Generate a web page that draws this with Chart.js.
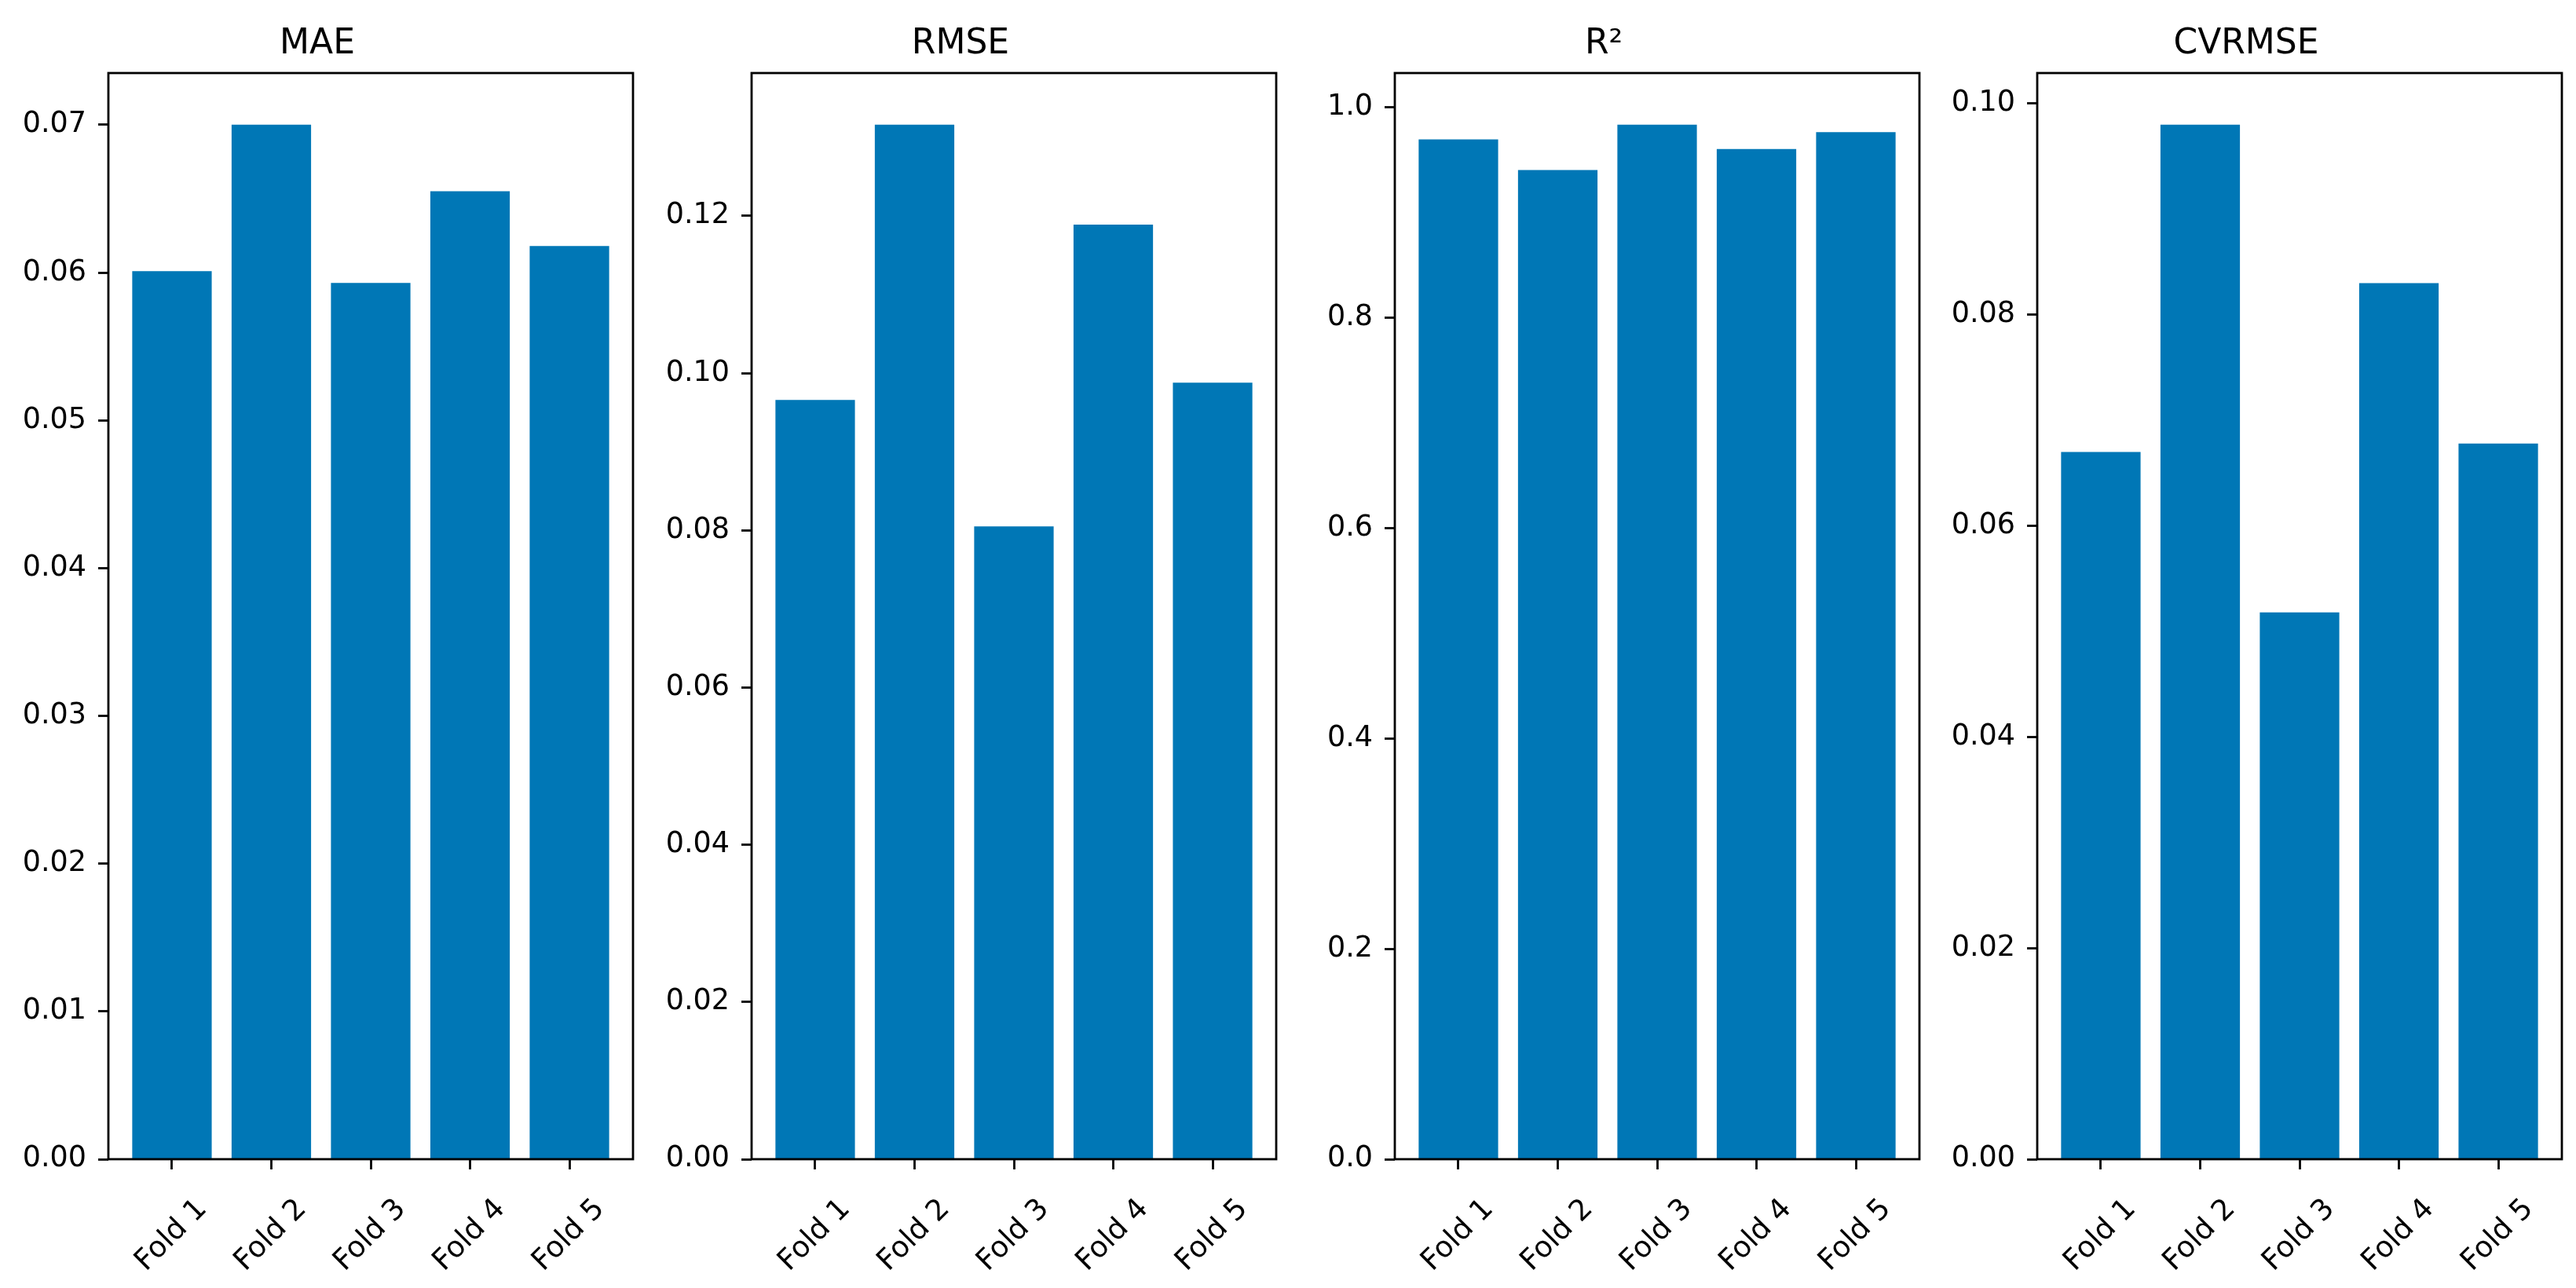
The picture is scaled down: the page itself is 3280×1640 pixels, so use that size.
<!DOCTYPE html>
<html>
<head>
<meta charset="utf-8">
<script src="https://cdn.jsdelivr.net/npm/chart.js@4.4.1/dist/chart.umd.min.js"></script>
<style>
  html, body { margin: 0; padding: 0; background: #fff; }
  #figure { position: relative; width: 3280px; height: 1640px; background: #fff; }
  .panel { position: absolute; top: 0; }
</style>
</head>
<body>
<div id="figure"></div>
<script>
// Folds and metric values per fold
const folds = ['Fold 1', 'Fold 2', 'Fold 3', 'Fold 4', 'Fold 5'];
const maeValues = [0.0601, 0.0700, 0.0593, 0.0655, 0.0618];
const rmseValues = [0.0966, 0.1316, 0.0805, 0.1189, 0.0988];
const r2Values = [0.969, 0.940, 0.983, 0.960, 0.976];
const cvrmseValues = [0.0670, 0.0980, 0.0518, 0.0830, 0.0678];

const panelTitles = ['MAE', 'RMSE', 'R²', 'CVRMSE'];
const panelValues = [maeValues, rmseValues, r2Values, cvrmseValues];
const tickSteps = [0.01, 0.02, 0.2, 0.02];
const tickDecimals = [2, 2, 1, 2];

// layout of the figure (pixels)
const frameLefts = [138, 957, 1776, 2594];
const frameWidth = 668;
const frameBottom = 1476;
const yAxisWidth = 136;
const rightPad = 6;
const barColor = '#0077b6';

Chart.defaults.font.family = "'DejaVu Sans', sans-serif";
Chart.defaults.color = '#000';

// box around the plotting area, like matplotlib spines
const framePlugin = {
    id: 'frame',
    afterDatasetsDraw(chart) {
        const { ctx, chartArea: a } = chart;
        ctx.save();
        ctx.strokeStyle = '#000';
        ctx.lineWidth = 2.8;
        ctx.strokeRect(a.left, a.top, a.right - a.left, a.bottom - a.top);
        ctx.restore();
    }
};

const figure = document.getElementById('figure');

panelValues.forEach((values, p) => {
    const div = document.createElement('div');
    div.className = 'panel';
    div.style.left = (frameLefts[p] - yAxisWidth) + 'px';
    const canvas = document.createElement('canvas');
    canvas.width = yAxisWidth + frameWidth + rightPad;
    canvas.height = 1640;
    div.appendChild(canvas);
    figure.appendChild(div);

    const yMax = Math.max(...values) * 1.05;

    new Chart(canvas, {
        type: 'bar',
        data: {
            datasets: [{
                data: values.map((v, i) => ({ x: i, y: v })),
                backgroundColor: barColor,
                borderWidth: 0,
                barPercentage: 0.8,
                categoryPercentage: 1.0
            }]
        },
        options: {
            responsive: false,
            animation: false,
            devicePixelRatio: 1,
            layout: { padding: { top: 0, right: rightPad, bottom: 0, left: 0 } },
            plugins: {
                legend: { display: false },
                tooltip: { enabled: false },
                title: {
                    display: true,
                    text: panelTitles[p],
                    color: '#000',
                    font: { size: 44, weight: 'normal' },
                    padding: { top: 30.6, bottom: 9.6 }
                }
            },
            scales: {
                x: {
                    type: 'linear',
                    offset: false,
                    min: -0.64,
                    max: 4.64,
                    afterBuildTicks: axis => {
                        axis.ticks = folds.map((_, i) => ({ value: i }));
                    },
                    afterFit: axis => { axis.height = 1640 - frameBottom; },
                    border: { display: false },
                    grid: {
                        offset: false,
                        drawOnChartArea: false,
                        drawTicks: true,
                        tickLength: 13,
                        tickColor: '#000',
                        tickWidth: 2.8
                    },
                    ticks: {
                        autoSkip: false,
                        minRotation: 45,
                        maxRotation: 45,
                        padding: 29,
                        labelOffset: 39,
                        font: { size: 37 },
                        color: '#000',
                        callback: v => folds[v]
                    }
                },
                y: {
                    min: 0,
                    max: yMax,
                    afterFit: axis => { axis.width = yAxisWidth; },
                    border: { display: false },
                    grid: {
                        drawOnChartArea: false,
                        drawTicks: true,
                        tickLength: 13,
                        tickColor: '#000',
                        tickWidth: 2.8
                    },
                    ticks: {
                        stepSize: tickSteps[p],
                        includeBounds: false,
                        padding: 15,
                        font: { size: 36.5 },
                        color: '#000',
                        callback: v => Number(v).toFixed(tickDecimals[p])
                    }
                }
            }
        },
        plugins: [framePlugin]
    });
});
</script>
</body>
</html>
